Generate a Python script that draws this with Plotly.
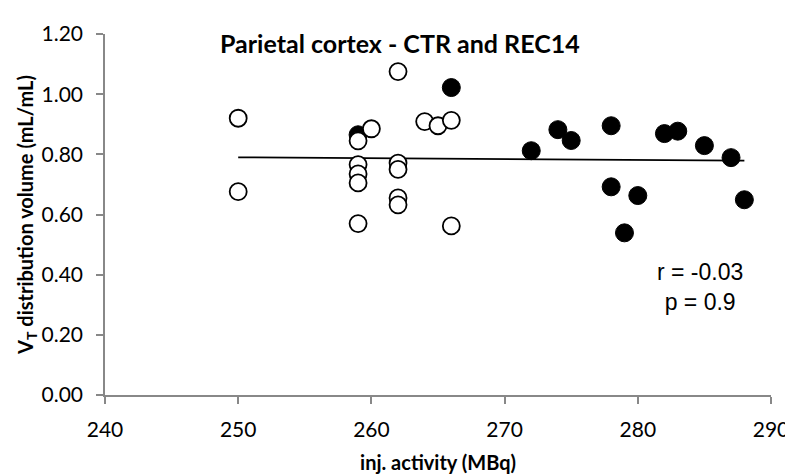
import plotly.graph_objects as go

# CTR (open circles)
ctr_x = [250, 250, 259, 259, 259, 259, 259, 260, 262, 262, 262, 262, 262, 264, 265, 266, 266]
ctr_y = [0.920, 0.676, 0.845, 0.766, 0.735, 0.705, 0.570, 0.885, 1.075, 0.771, 0.750, 0.655, 0.632, 0.909, 0.895, 0.913, 0.562]

# REC14 (filled circles)
rec_x = [259, 266, 272, 274, 275, 278, 278, 279, 280, 282, 283, 285, 287, 288]
rec_y = [0.865, 1.022, 0.812, 0.882, 0.846, 0.895, 0.692, 0.539, 0.663, 0.869, 0.877, 0.829, 0.789, 0.649]

# trend line endpoints
trend_x = [250, 288]
trend_y = [0.790, 0.779]

x_ticks = [240, 250, 260, 270, 280, 290]
y_ticks = [0.0, 0.2, 0.4, 0.6, 0.8, 1.0, 1.2]
y_tick_labels = ["0.00", "0.20", "0.40", "0.60", "0.80", "1.00", "1.20"]

title_text = "Parietal cortex - CTR and REC14"
stats_text = "r = -0.03<br>p = 0.9"

fig = go.Figure()
fig.add_trace(go.Scatter(x=trend_x, y=trend_y, mode="lines",
                         line=dict(color="black", width=1.8), showlegend=False, hoverinfo="skip"))
fig.add_trace(go.Scatter(x=rec_x, y=rec_y, mode="markers", name="REC14",
                         marker=dict(symbol="circle", size=18, color="black",
                                     line=dict(color="black", width=1)), showlegend=False))
fig.add_trace(go.Scatter(x=ctr_x, y=ctr_y, mode="markers", name="CTR",
                         marker=dict(symbol="circle", size=17, color="white",
                                     line=dict(color="black", width=1.8)), showlegend=False))

fam = "Lato, Carlito, Calibri, sans-serif"
tick_font = dict(family=fam, size=21, color="black")

fig.update_layout(
    width=793, height=475,
    margin=dict(l=97, r=23, t=15, b=82),
    paper_bgcolor="white", plot_bgcolor="white",
    font=tick_font,
    xaxis=dict(range=[240, 290], tickvals=x_ticks, showgrid=False, zeroline=False,
               showline=True, linecolor="#888888", linewidth=1.5,
               ticks="outside", ticklen=7, tickcolor="#888888", tickwidth=1.5,
               tickfont=tick_font, ticklabelstandoff=8,
               title=dict(text="<b>inj. activity (MBq)</b>", font=dict(family=fam, size=20, color="black"), standoff=16)),
    yaxis=dict(range=[0, 1.2], tickvals=y_ticks, ticktext=y_tick_labels, showgrid=False, zeroline=False,
               showline=True, linecolor="#888888", linewidth=1.5,
               ticks="outside", ticklen=7, tickcolor="#888888", tickwidth=1.5,
               tickfont=tick_font, ticklabelstandoff=9,
               title=dict(text="<b>V<sub>T</sub> distribution volume (mL/mL)</b>", font=dict(family=fam, size=20, color="black"), standoff=3)),
    annotations=[
        dict(text="<b>" + title_text + "</b>", xref="paper", yref="paper", x=0.4425, y=1.0,
             xanchor="center", yanchor="middle", showarrow=False, yshift=-9,
             font=dict(family=fam, size=25, color="black")),
        dict(text=stats_text, xref="x", yref="y", x=284.7, y=0.36, xanchor="center", yanchor="middle",
             showarrow=False, align="center",
             font=dict(family="Liberation Sans, Arial, sans-serif", size=23, color="black")),
    ],
)

fig.write_html("out.html")
